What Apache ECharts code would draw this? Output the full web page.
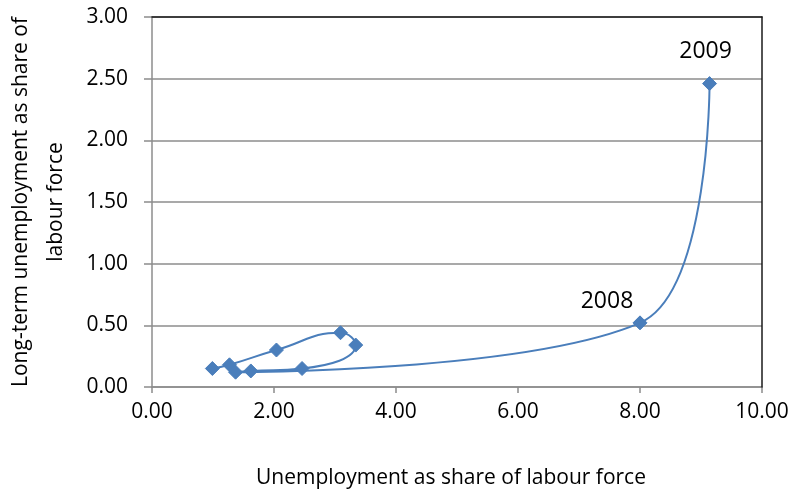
<!DOCTYPE html>
<html>
<head>
<meta charset="utf-8">
<script src="https://cdn.jsdelivr.net/npm/echarts@6/dist/echarts.min.js"></script>
<style>
  html, body { margin: 0; padding: 0; background: #fff; }
  #chart { width: 792px; height: 492px; }
</style>
</head>
<body>
<div id="chart"></div>
<script>
// Unemployment rate vs long-term unemployment rate, joined in time order
const unemployment = [0.99, 1.27, 2.04, 3.09, 3.34, 2.46, 1.62, 1.37, 8.00, 9.14];
const longTerm     = [0.15, 0.18, 0.30, 0.44, 0.34, 0.15, 0.13, 0.12, 0.52, 2.46];
const pointLabels  = ['', '', '', '', '', '', '', '', '2008', '2009'];
const xTicks = { min: 0, max: 10, interval: 2 };
const yTicks = { min: 0, max: 3, interval: 0.5 };

const FONT = 'Open Sans';
const labelOffsets = { '2008': [-33, 3], '2009': [-4, -8] };

const points = unemployment.map((x, i) => {
  const item = { value: [x, longTerm[i]] };
  const name = pointLabels[i];
  if (name) {
    item.label = {
      show: true,
      position: 'top',
      formatter: name,
      offset: labelOffsets[name],
      fontFamily: FONT,
      fontSize: 23,
      color: '#000'
    };
  }
  return item;
});

const chart = echarts.init(document.getElementById('chart'));
chart.setOption({
  animation: false,
  backgroundColor: '#fff',
  grid: { left: 152, right: 30, top: 17, bottom: 105, containLabel: false, outerBoundsMode: 'none' },
  xAxis: [{
    type: 'value',
    min: xTicks.min, max: xTicks.max, interval: xTicks.interval,
    axisLine: { show: true, lineStyle: { color: '#8c8c8c', width: 1.5 } },
    axisTick: { show: true, inside: false, length: 6, lineStyle: { color: '#8c8c8c', width: 1.5 } },
    axisLabel: {
      fontFamily: FONT, fontSize: 21, color: '#000', margin: 15,
      formatter: v => v.toFixed(2)
    },
    splitLine: { show: false },
    name: 'Unemployment as share of labour force',
    nameLocation: 'middle',
    nameGap: 81,
    nameTextStyle: { fontFamily: FONT, fontSize: 21, color: '#000', padding: [0, 12, 0, 0] }
  }, {
    type: 'value', position: 'top',
    min: xTicks.min, max: xTicks.max, z: 5,
    axisLine: { show: true, onZero: false, lineStyle: { color: '#1a1a1a', width: 1.5 } },
    axisTick: { show: false }, axisLabel: { show: false }, splitLine: { show: false }
  }],
  yAxis: [{
    type: 'value',
    min: yTicks.min, max: yTicks.max, interval: yTicks.interval,
    axisLine: { show: true, lineStyle: { color: '#8c8c8c', width: 1.5 } },
    axisTick: { show: true, inside: false, length: 8, lineStyle: { color: '#8c8c8c', width: 1.5 } },
    axisLabel: {
      fontFamily: FONT, fontSize: 21, color: '#000', margin: 24,
      formatter: v => v.toFixed(2)
    },
    splitLine: { show: true, lineStyle: { color: '#8c8c8c', width: 1.5 } },
    name: 'Long-term unemployment as share of\nlabour force',
    nameLocation: 'middle',
    nameGap: 78,
    nameRotate: 90,
    nameTextStyle: { fontFamily: FONT, fontSize: 21, color: '#000', lineHeight: 35 }
  }, {
    type: 'value', position: 'right',
    min: yTicks.min, max: yTicks.max, z: 5,
    axisLine: { show: true, onZero: false, lineStyle: { color: '#1a1a1a', width: 1.5 } },
    axisTick: { show: false }, axisLabel: { show: false }, splitLine: { show: false }
  }],
  series: [{
    type: 'line',
    data: points,
    smooth: 0.5,
    symbol: 'diamond',
    symbolSize: 14,
    showAllSymbol: true,
    lineStyle: { color: '#4a7ebb', width: 2 },
    itemStyle: { color: '#4a7ebb', borderColor: '#4a7ebb' },
    label: { show: false },
    z: 6
  }]
});
</script>
</body>
</html>
